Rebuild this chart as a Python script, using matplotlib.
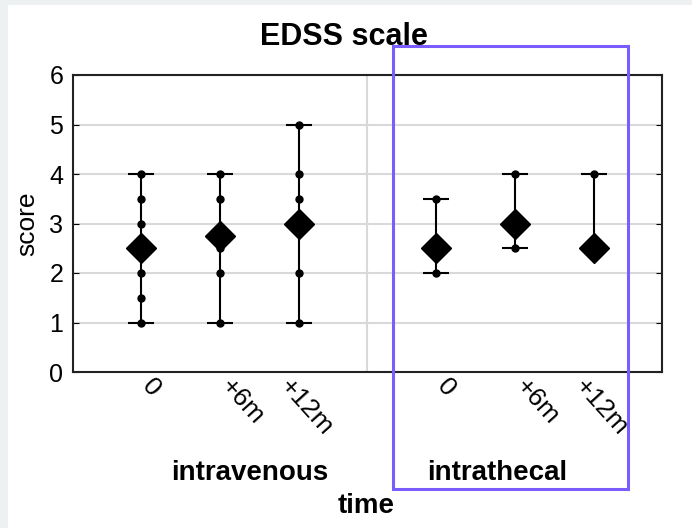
import matplotlib.pyplot as plt
from matplotlib.patches import Rectangle

plt.rcParams["font.family"] = ["Liberation Sans", "DejaVu Sans"]

# values
times = ["0", "+6m", "+12m"]
groups = ["intravenous", "intrathecal"]

iv_mean = [2.5, 2.75, 3.0]
iv_min = [1.0, 1.0, 1.0]
iv_max = [4.0, 4.0, 5.0]
iv_points = [[1, 1.5, 2, 3, 3.5, 4], [1, 2, 2.5, 3.5, 4], [1, 2, 3.5, 4, 5]]

it_mean = [2.5, 3.0, 2.5]
it_min = [2.0, 2.5, 2.5]
it_max = [3.5, 4.0, 4.0]
it_points = [[2, 3.5], [2.5, 4], [2.5, 4]]

# horizontal nudge (points) of each rotated time label
label_dx = [10, 10, -4.5]

fig = plt.figure(figsize=(6.92, 5.28), dpi=100, facecolor="#eef1f1")
fig.patches.append(Rectangle((8 / 692, 0), 1, 1 - 5 / 528, transform=fig.transFigure,
                             facecolor="white", edgecolor="none", zorder=-10))
ax = fig.add_axes([73 / 692, 1 - 372 / 528, (662 - 73) / 692, (372 - 75) / 528])

gap = 1.745
series = [(iv_mean, iv_min, iv_max, iv_points, 0.0),
          (it_mean, it_min, it_max, it_points, 2 + gap)]
xticks = []
for mean, lo, hi, pts, off in series:
    xs = [off + i for i in range(len(times))]
    xticks += xs
    for x, m, a, b, p in zip(xs, mean, lo, hi, pts):
        ax.errorbar([x], [m], yerr=[[m - a], [b - m]], fmt="none", ecolor="black",
                    elinewidth=1.5, capsize=9.7, capthick=1.5, zorder=3)
        ax.plot([x] * len(p), p, "o", color="black", ms=5, zorder=4)
    ax.plot(xs, mean, "D", color="black", ms=15.5, linestyle="none", zorder=5)

ax.set_xlim(-0.866, 2 + gap + 2.866)
ax.set_ylim(0, 6)
ax.set_yticks(range(7))
ax.yaxis.grid(True, color="#d9d9d9", lw=1.5)
ax.set_axisbelow(True)
ax.axvline(2.866, color="#d9d9d9", lw=1.5, zorder=1)

# rotated time labels under each column
ax.set_xticks(xticks)
ax.set_xticklabels([])
for x, lab, dx in zip(xticks, times * 2, label_dx * 2):
    ax.annotate(lab, xy=(x, 0), xycoords=("data", "axes fraction"),
                xytext=(dx, -2), textcoords="offset points", fontsize=19,
                rotation=-48, rotation_mode="anchor", ha="left", va="top",
                annotation_clip=False)
ax.tick_params(axis="x", length=0)
ax.tick_params(axis="y", direction="in", length=4, labelsize=18, pad=7, right=True)
for s in ax.spines.values():
    s.set_linewidth(1.5)
    s.set_color("#222222")

ax.set_ylabel("score", fontsize=19, labelpad=7)

fig.text(344 / 692, 1 - 45 / 528, "EDSS scale", fontsize=22, fontweight="bold",
         ha="center", va="baseline")
fig.text(250 / 692, 1 - 480 / 528, groups[0], fontsize=20, fontweight="bold",
         ha="center", va="baseline")
fig.text(497 / 692, 1 - 480 / 528, groups[1], fontsize=20, fontweight="bold",
         ha="center", va="baseline")
fig.text(366 / 692, 1 - 513 / 528, "time", fontsize=20, fontweight="bold",
         ha="center", va="baseline")

fig.patches.append(Rectangle((393 / 692, 1 - 489 / 528), (628 - 393) / 692, (489 - 46) / 528,
                             transform=fig.transFigure, facecolor="none",
                             edgecolor="#7b5cff", lw=2.2, zorder=10))

fig.savefig("out.png", dpi=100, facecolor=fig.get_facecolor())
